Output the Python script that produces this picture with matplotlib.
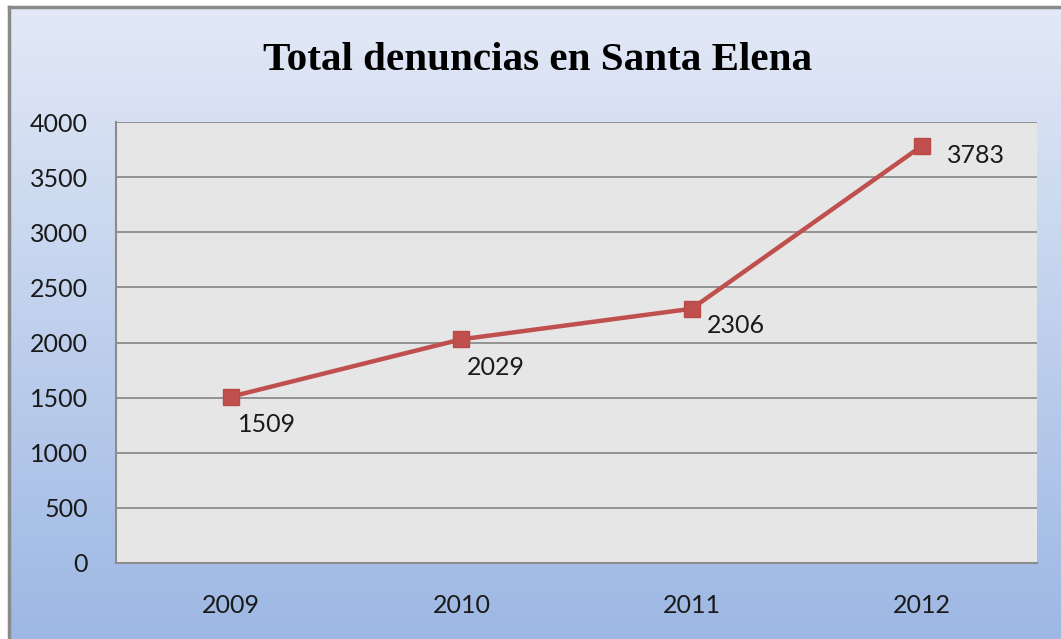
import numpy as np
import matplotlib.pyplot as plt
from matplotlib.colors import LinearSegmentedColormap

# datos
years = ['2009', '2010', '2011', '2012']
denuncias = [1509, 2029, 2306, 3783]
# desplazamiento de cada etiqueta (puntos)
label_offsets = [(5, -20), (4, -20), (11, -12), (18, -7)]

W, H = 1061, 639
fig = plt.figure(figsize=(W / 100, H / 100), dpi=100)
fig.patch.set_facecolor('white')

# fondo degradado del grafico
bg = fig.add_axes([9 / W, 0, 1 - 9 / W, 1 - 7 / H])
cmap = LinearSegmentedColormap.from_list('grad', ['#e3e9f6', '#9db8e4'])
bg.imshow(np.linspace(0, 1, 256).reshape(-1, 1), aspect='auto', cmap=cmap,
          extent=[0, 1, 0, 1], origin='upper')
bg.set_xlim(0, 1)
bg.set_ylim(0, 1)
bg.set_xticks([])
bg.set_yticks([])
for s in ['right', 'bottom']:
    bg.spines[s].set_visible(False)
for s in ['left', 'top']:
    bg.spines[s].set_color('#8a8a8a')
    bg.spines[s].set_linewidth(2.5)

ax = fig.add_axes([116 / W, 1 - 563 / H, (1037 - 116) / W, (563 - 122) / H])
ax.set_facecolor('#e6e6e6')
x = np.arange(len(years))
ax.plot(x, denuncias, color='#c0504d', lw=3.2, marker='s', ms=12,
        markerfacecolor='#c0504d', markeredgecolor='#b94a47', zorder=3)
for xi, v, off in zip(x, denuncias, label_offsets):
    ax.annotate(str(v), (xi, v), xytext=off, textcoords='offset points',
                fontsize=18, family='Lato', color='#1a1a1a', va='center', ha='left')

ax.set_xlim(-0.5, len(years) - 0.5)
ax.set_ylim(0, 4000)
ax.set_yticks(range(0, 4001, 500))
ax.set_xticks(x)
ax.set_xticklabels(years)
ax.yaxis.grid(True, color='#8c8c8c', lw=1.3)
ax.set_axisbelow(True)
ax.tick_params(length=0, labelsize=18, colors='#1a1a1a')
ax.tick_params(axis='y', pad=20)
ax.tick_params(axis='x', pad=22)
for lab in ax.get_xticklabels() + ax.get_yticklabels():
    lab.set_family('Lato')
for s in ['right', 'top']:
    ax.spines[s].set_visible(False)
for s in ['left', 'bottom']:
    ax.spines[s].set_color('#8c8c8c')
    ax.spines[s].set_linewidth(1.5)

fig.text(538 / W, 1 - 61 / H, 'Total denuncias en Santa Elena', ha='center',
         va='center', fontsize=29.6, fontweight='bold', family='Liberation Serif')

fig.savefig('out.png', dpi=100)
